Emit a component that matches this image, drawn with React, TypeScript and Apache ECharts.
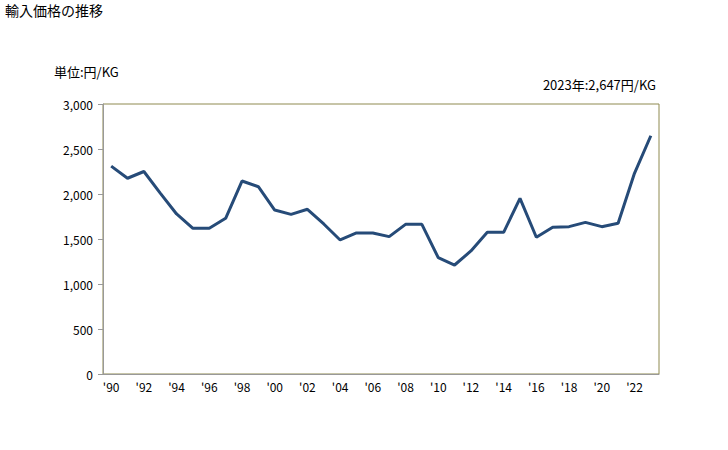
import React, { useEffect, useRef } from "react";
import * as echarts from "echarts";

const years: string[] = [
  "1990","1991","1992","1993","1994","1995","1996","1997","1998","1999",
  "2000","2001","2002","2003","2004","2005","2006","2007","2008","2009",
  "2010","2011","2012","2013","2014","2015","2016","2017","2018","2019",
  "2020","2021","2022","2023",
];
const prices: number[] = [
  2310, 2175, 2250, 2010, 1778, 1619, 1619, 1730, 2144, 2081,
  1822, 1774, 1830, 1667, 1489, 1567, 1567, 1526, 1663, 1663,
  1293, 1211, 1367, 1574, 1574, 1952, 1519, 1630, 1637, 1685,
  1637, 1674, 2230, 2647,
];
const yTicks = { min: 0, max: 3000, interval: 500 };
const titleText = "輸入価格の推移";
const unitText = "単位:円/KG";
const latestText = "2023年:2,647円/KG";

const FONT = "'Noto Sans CJK JP', sans-serif";

export default function App() {
  const ref = useRef<HTMLDivElement>(null);
  useEffect(() => {
    if (!ref.current) return;
    const chart = echarts.init(ref.current, null, { renderer: "svg" });
    chart.setOption({
      animation: false,
      backgroundColor: "#ffffff",
      textStyle: { fontFamily: FONT },
      graphic: [
        { type: "text", left: 5, top: 3, style: { text: titleText, fontSize: 14, fill: "#000", fontFamily: FONT } },
        { type: "text", left: 54, top: 65, style: { text: unitText, fontSize: 13, fill: "#000", fontFamily: FONT } },
        { type: "text", right: 72, top: 78, style: { text: latestText, fontSize: 13, fill: "#000", fontFamily: FONT } },
      ],
      grid: {
        left: 103,
        right: 69,
        top: 104,
        bottom: 76,
        show: true,
        borderColor: "#8f8a50",
        borderWidth: 1,
        backgroundColor: "transparent",
      },
      xAxis: {
        type: "category",
        data: years,
        boundaryGap: true,
        axisLine: { show: true, lineStyle: { color: "#999999", width: 1 } },
        axisTick: { show: false },
        axisLabel: {
          interval: 1,
          color: "#000",
          fontSize: 12,
          margin: 6,
          fontFamily: FONT,
          formatter: (v: string) => "'" + v.slice(2),
        },
        splitLine: { show: false },
      },
      yAxis: {
        type: "value",
        min: yTicks.min,
        max: yTicks.max,
        interval: yTicks.interval,
        axisLine: { show: true, lineStyle: { color: "#999999", width: 1 } },
        axisTick: { show: true, length: 5, lineStyle: { color: "#999999" } },
        axisLabel: {
          color: "#000",
          fontSize: 12,
          margin: 10,
          fontFamily: FONT,
          formatter: (v: number) => v.toLocaleString("en-US"),
        },
        splitLine: { show: false },
      },
      series: [
        {
          type: "line",
          data: prices,
          symbol: "none",
          lineStyle: { color: "#264b78", width: 3 },
        },
      ],
    });
    return () => chart.dispose();
  }, []);
  return <div ref={ref} style={{ position: "fixed", left: 0, top: 0, width: 728, height: 450 }} />;
}
